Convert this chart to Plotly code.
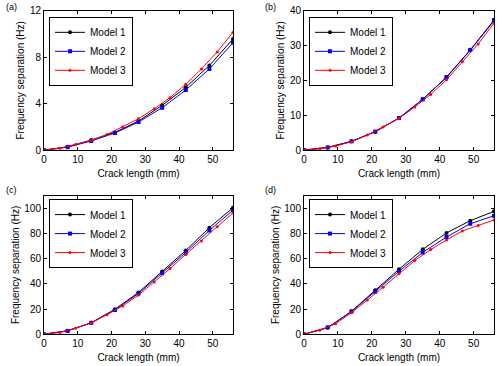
"""Frequency separation vs crack length, four panels, three models each."""

import plotly.graph_objects as go

# crack length (mm)
crack_coarse = [0, 7, 14, 21, 28, 35, 42, 49, 56]
crack_fine = [0, 4.67, 9.33, 14, 18.67, 23.33, 28, 32.67, 37.33, 42, 46.67, 51.33, 56]

# panel (a)
a_model1 = [0, 0.28, 0.86, 1.53, 2.50, 3.86, 5.41, 7.30, 9.58]
a_model2 = [0, 0.25, 0.78, 1.47, 2.42, 3.65, 5.18, 7.00, 9.26]
a_model3 = [0, 0.15, 0.49, 0.85, 1.35, 1.99, 2.70, 3.57, 4.52, 5.67, 7.00, 8.47, 10.17]

# panel (b)
b_model1 = [0, 0.75, 2.5, 5.3, 9.2, 14.6, 20.9, 28.7, 37.2]
b_model2 = [0, 0.75, 2.5, 5.3, 9.2, 14.6, 21.0, 28.8, 37.4]
b_model3 = [0, 0.35, 1.15, 2.4, 4.3, 6.6, 9.1, 12.4, 16.0, 20.2, 25.4, 30.5, 36.5]

# panel (c)
c_model1 = [0, 2.7, 9.1, 19.8, 33.2, 49.8, 66.6, 84.8, 100.7]
c_model2 = [0, 2.6, 9.0, 19.3, 32.4, 48.4, 65.0, 82.6, 98.7]
c_model3 = [0, 1.3, 4.8, 9.0, 15.5, 22.5, 31.1, 41.5, 52.2, 63.5, 74.2, 85.6, 96.5]

# panel (d)
d_model1 = [0, 5.1, 18.2, 34.9, 51.7, 67.5, 80.6, 90.3, 97.8]
d_model2 = [0, 5.4, 18.0, 33.8, 50.1, 65.1, 77.4, 87.9, 94.3]
d_model3 = [0, 3.2, 8.3, 17.2, 27.1, 37.3, 48.0, 58.7, 67.3, 75.0, 82.2, 86.6, 90.8]

panel_labels = ["(a)", "(b)", "(c)", "(d)"]
y_ranges = [[0, 12], [0, 40], [0, 110], [0, 110]]
y_dticks = [4, 10, 20, 20]

FONT = "Arial, Liberation Sans, sans-serif"

panels = [
    (a_model1, a_model2, a_model3),
    (b_model1, b_model2, b_model3),
    (c_model1, c_model2, c_model3),
    (d_model1, d_model2, d_model3),
]

# pixel-derived domains (500x366 canvas, zero margins)
x_domains = [[0.088, 0.466], [0.608, 0.988], [0.088, 0.466], [0.608, 0.988]]
y_domains = [[0.590, 0.970], [0.590, 0.970], [0.087, 0.4645], [0.087, 0.4645]]
legend_pos = [(0.098, 0.954), (0.618, 0.954), (0.098, 0.456), (0.618, 0.456)]
label_pos = [(0.008, 0.981), (0.526, 0.981), (0.008, 0.481), (0.526, 0.481)]
ytitle_shift = [-23, -23, -29, -29]

styles = [
    ("Model 1", "#000000", "circle", 4),
    ("Model 2", "#0000ff", "square", 4),
    ("Model 3", "#ff0000", "circle", 3),
]

fig = go.Figure()

for i, series in enumerate(panels):
    sfx = "" if i == 0 else str(i + 1)
    for (name, color, symbol, size), values in zip(styles, series):
        xs = crack_fine if name == "Model 3" else crack_coarse
        fig.add_trace(
            go.Scatter(
                x=xs,
                y=values,
                name=name,
                mode="lines+markers",
                line=dict(color=color, width=1),
                marker=dict(color=color, symbol=symbol, size=size),
                xaxis="x" + sfx,
                yaxis="y" + sfx,
                legend="legend" + sfx,
            )
        )

    axis_common = dict(
        automargin=False,
        showline=True,
        linecolor="black",
        linewidth=1,
        mirror="ticks",
        ticks="inside",
        ticklen=3,
        tickcolor="black",
        showgrid=False,
        zeroline=False,
        tickfont=dict(size=10, color="black", family=FONT),
    )
    fig.update_layout(
        {
            "xaxis" + sfx: dict(
                axis_common,
                domain=x_domains[i],
                anchor="y" + sfx,
                range=[0, 56],
                tickvals=[0, 10, 20, 30, 40, 50],
                title=dict(text="Crack length (mm)", font=dict(size=10, family=FONT), standoff=5),
            ),
            "yaxis" + sfx: dict(
                axis_common,
                domain=y_domains[i],
                anchor="x" + sfx,
                range=y_ranges[i],
                dtick=y_dticks[i],
            ),
            "legend" + sfx: dict(
                x=legend_pos[i][0],
                y=legend_pos[i][1],
                xanchor="left",
                yanchor="top",
                bgcolor="white",
                bordercolor="black",
                borderwidth=1,
                font=dict(size=10, color="black", family=FONT),
                itemwidth=30,
                tracegroupgap=0,
            ),
        }
    )
    # y title placed by hand: plotly's own title sits too far from the tick labels
    fig.add_annotation(
        text="Frequency separation (Hz)",
        xref="x" + sfx + " domain",
        yref="y" + sfx + " domain",
        x=0,
        y=0.5,
        xshift=ytitle_shift[i],
        textangle=-90,
        xanchor="center",
        yanchor="middle",
        showarrow=False,
        font=dict(size=10, color="black", family=FONT),
    )
    fig.add_annotation(
        text=panel_labels[i],
        xref="paper",
        yref="paper",
        x=label_pos[i][0],
        y=label_pos[i][1],
        xanchor="left",
        yanchor="middle",
        showarrow=False,
        font=dict(size=9, color="black", family=FONT),
    )

fig.update_layout(
    width=500,
    height=366,
    margin=dict(l=0, r=0, t=0, b=0),
    plot_bgcolor="white",
    paper_bgcolor="white",
    font=dict(family=FONT, color="black"),
)

# the page's default 8px body margin would push the figure off the window
fig.write_html(
    "out.html",
    config={"displayModeBar": False},
    post_script="document.body.style.margin = '0';",
)
